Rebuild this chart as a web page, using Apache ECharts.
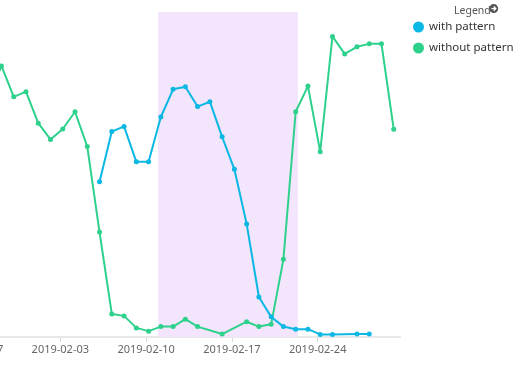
<!DOCTYPE html>
<html>
<head>
<meta charset="utf-8">
<script src="https://cdn.jsdelivr.net/npm/echarts@6/dist/echarts.min.js"></script>
<style>html,body{margin:0;padding:0;background:#fff}#c{width:514px;height:369px}</style>
</head>
<body>
<div id="c"></div>
<script>
// ---- data ----
const seriesNames = ['with pattern', 'without pattern'];
const withDates = ['2019-02-06','2019-02-07','2019-02-08','2019-02-09','2019-02-10','2019-02-11','2019-02-12','2019-02-13','2019-02-14','2019-02-15','2019-02-16','2019-02-17','2019-02-18','2019-02-19','2019-02-20','2019-02-21','2019-02-22','2019-02-23','2019-02-24','2019-02-25','2019-02-27','2019-02-28'];
const withValues = [47.8,63.2,64.8,53.9,53.9,67.7,76.2,77.0,70.9,72.4,61.6,51.6,34.8,12.3,6.2,3.2,2.4,2.4,0.8,0.8,0.9,0.9];
const withoutDates = ['2019-01-28','2019-01-29','2019-01-30','2019-01-31','2019-02-01','2019-02-02','2019-02-03','2019-02-04','2019-02-05','2019-02-06','2019-02-07','2019-02-08','2019-02-09','2019-02-10','2019-02-11','2019-02-12','2019-02-13','2019-02-14','2019-02-16','2019-02-18','2019-02-19','2019-02-20','2019-02-21','2019-02-22','2019-02-23','2019-02-24','2019-02-25','2019-02-26','2019-02-27','2019-02-28','2019-03-01','2019-03-02'];
const withoutValues = [74.0,83.4,73.9,75.5,65.8,60.8,64.0,69.3,58.6,32.3,7.1,6.5,2.8,1.8,3.2,3.2,5.5,3.2,0.9,4.7,3.2,3.9,23.9,69.3,77.2,57.0,92.5,87.1,89.3,90.2,90.2,63.9];
const bandStart = '2019-02-10T18:30';
const bandEnd = '2019-02-22T04:30';
const axisStartDate = '2019-01-27';

// ---- helpers ----
const DAY = 86400000;
function toUTC(s){
  const m = s.match(/(\d+)-(\d+)-(\d+)(?:T(\d+):(\d+))?/);
  return Date.UTC(+m[1], +m[2]-1, +m[3], m[4]?+m[4]:0, m[5]?+m[5]:0);
}
const origin = toUTC(axisStartDate);
function dayIdx(s){ return (toUTC(s) - origin) / DAY; }
function fmtDay(i){
  const d = new Date(origin + i*DAY);
  const p = n => (n<10?'0':'')+n;
  return d.getUTCFullYear()+'-'+p(d.getUTCMonth()+1)+'-'+p(d.getUTCDate());
}
const AXIS_SHIFT = 0.2;

const chart = echarts.init(document.getElementById('c'), null, {renderer:'canvas'});
const FONT = 'Noto Sans';
chart.setOption({
  animation: false,
  color: ['#0bb8e4', '#2ed18b'],
  title: {
    text: 'Legend',
    left: 449, top: 1,
    textStyle: {fontSize: 10.5, fontWeight: 'normal', color: '#555', fontFamily: FONT}
  },
  graphic: [{
    type: 'group', left: 489, top: 4,
    children: [
      {type: 'circle', shape: {cx: 5, cy: 5, r: 4.5}, style: {fill: '#555'}},
      {type: 'polyline', shape: {points: [[2.8,5],[7,5]]}, style: {stroke: '#fff', lineWidth: 1.3}},
      {type: 'polyline', shape: {points: [[5,2.9],[7.1,5],[5,7.1]]}, style: {stroke: '#fff', fill: null, lineWidth: 1.3}}
    ]
  }],
  legend: {
    orient: 'vertical',
    left: 408, top: 16,
    icon: 'circle',
    itemWidth: 11, itemHeight: 11, itemGap: 9,
    textStyle: {fontSize: 11.5, color: '#333', fontFamily: FONT},
    data: seriesNames
  },
  grid: {left: -25.5, right: 114, top: 12, bottom: 32, containLabel: false, outerBoundsMode: 'none'},
  xAxis: {
    type: 'value',
    min: -AXIS_SHIFT,
    max: 34.51,
    interval: 7,
    axisLine: {show: true, lineStyle: {color: '#e8e8e8', width: 2}},
    axisTick: {show: true, length: 5, lineStyle: {color: '#dcdcdc'}},
    splitLine: {show: false},
    axisLabel: {
      margin: 7,
      fontSize: 11, color: '#666', fontFamily: FONT,
      showMaxLabel: false,
      formatter: function(v){
        const i = Math.round(v + AXIS_SHIFT);
        if (Math.abs(v + AXIS_SHIFT - i) > 0.01 || i % 7 !== 0) return '';
        return fmtDay(i);
      }
    }
  },
  yAxis: {type: 'value', min: 0, max: 100, show: false, splitLine: {show: false}},
  series: [
    {
      name: seriesNames[0], type: 'line',
      data: withDates.map((d,i) => [dayIdx(d), withValues[i]]),
      symbol: 'circle', symbolSize: 5, showSymbol: true,
      lineStyle: {width: 2}, z: 3
    },
    {
      name: seriesNames[1], type: 'line',
      data: withoutDates.map((d,i) => [dayIdx(d), withoutValues[i]]),
      symbol: 'circle', symbolSize: 5, showSymbol: true,
      lineStyle: {width: 2}, z: 2,
      markArea: {
        silent: true,
        itemStyle: {color: '#f3e6fc'},
        data: [[{xAxis: dayIdx(bandStart)}, {xAxis: dayIdx(bandEnd)}]]
      }
    }
  ]
});
</script>
</body>
</html>
